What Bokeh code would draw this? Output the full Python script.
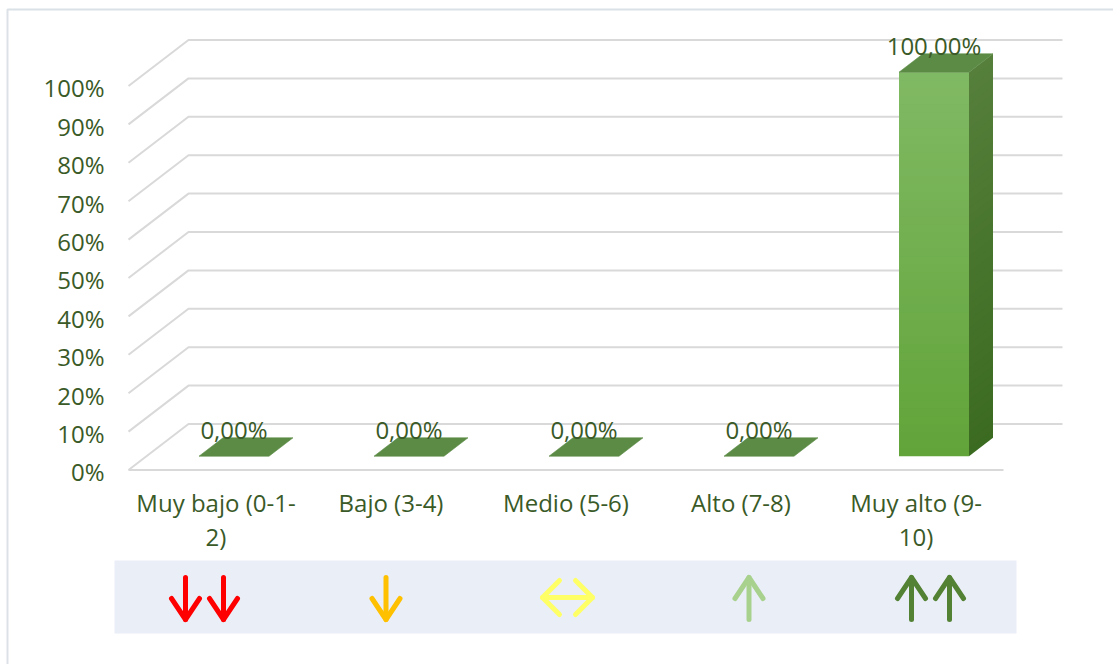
from bokeh.plotting import figure
from bokeh.models import Range1d
from bokeh.core.properties import value
from bokeh.embed import file_html
from bokeh.resources import INLINE

# ---- data -------------------------------------------------------------
categories = ["Muy bajo (0-1-2)", "Bajo (3-4)", "Medio (5-6)", "Alto (7-8)", "Muy alto (9-10)"]
category_lines = ["Muy bajo (0-1-\n2)", "Bajo (3-4)", "Medio (5-6)", "Alto (7-8)", "Muy alto (9-\n10)"]
percentages = [0.0, 0.0, 0.0, 0.0, 100.0]
y_ticks = [0, 10, 20, 30, 40, 50, 60, 70, 80, 90, 100]
y_tick_labels = ["0%", "10%", "20%", "30%", "40%", "50%", "60%", "70%", "80%", "90%", "100%"]
trend_kinds = ["down2", "down", "both", "up", "up2"]
trend_colors = ["#FF0000", "#FFC000", "#FFFF66", "#A9D18E", "#548235"]

# ---- layout / style ---------------------------------------------------
W, H = 1113, 664
PX = 3.84                 # pixels per percentage point
BASE_PX = 469.5           # pixel row of the front floor edge
FLOOR_L, FLOOR_R = 128, 1003
WALL_R = 1062
DEPTH_X, DEPTH_Y = 60, 46 / PX
BAR_W = 70
D0, D1 = 0.3, 0.7         # bar depth span inside the floor
TEXT = "#3A5A28"
FONT = value("Open Sans")
FS = "24px"
GRID = "#D9D9D9"


def yd(py):
    """pixel row -> data y"""
    return (BASE_PX - py) / PX


p = figure(width=W, height=H, output_backend="svg", toolbar_location=None,
           x_axis_type=None, y_axis_type=None, min_border=0,
           x_range=Range1d(0, W), y_range=Range1d(yd(H), yd(0)),
           background_fill_color="white", border_fill_color="white")
p.outline_line_color = None
p.grid.visible = False

# outer frame (left and top edges)
p.line([7, 7, W], [yd(H), yd(9), yd(9)], line_color="#DCE1E8", line_width=2)

# ---- walls and gridlines ---------------------------------------------
gx, gy = [], []
for t in y_ticks:
    gx.append([FLOOR_L, FLOOR_L + DEPTH_X, WALL_R])
    gy.append([t, t + DEPTH_Y, t + DEPTH_Y])
p.multi_line(gx, gy, line_color=GRID, line_width=2)
p.line([FLOOR_L, FLOOR_R], [0, 0], line_color=GRID, line_width=2)

p.text(x=[104] * len(y_ticks), y=[t - 0.5 for t in y_ticks], text=y_tick_labels,
       text_font=FONT, text_font_size=FS, text_color=TEXT,
       text_align="right", text_baseline="middle")

# ---- 3D columns --------------------------------------------------------
slot = (FLOOR_R - FLOOR_L) / len(categories)
centers = [FLOOR_L + slot * (i + 0.5) for i in range(len(categories))]


def mix(c1, c2, t):
    a = [int(c1[i:i + 2], 16) for i in (1, 3, 5)]
    b = [int(c2[i:i + 2], 16) for i in (1, 3, 5)]
    return "#%02x%02x%02x" % tuple(round(a[k] + (b[k] - a[k]) * t) for k in range(3))


N = 48
fl, fr, fb, ft, fc = [], [], [], [], []
sx, sy, sc = [], [], []
tx, ty = [], []
for cx, v in zip(centers, percentages):
    x0 = cx + D0 * DEPTH_X - BAR_W / 2
    x1 = x0 + BAR_W
    y0 = D0 * DEPTH_Y
    dx = (D1 - D0) * DEPTH_X
    dy = (D1 - D0) * DEPTH_Y
    if v > 0:
        for k in range(N):
            lo, hi = v * k / N, v * (k + 1) / N
            if k < N - 1:
                hi += 0.4  # overlap slices so no seams show
            t = k / (N - 1)
            fl.append(x0); fr.append(x1)
            fb.append(y0 + lo); ft.append(y0 + hi)
            fc.append(mix("#62A43A", "#80B963", t))
            sx.append([x1, x1 + dx, x1 + dx, x1])
            sy.append([y0 + lo, y0 + lo + dy, y0 + hi + dy, y0 + hi])
            sc.append(mix("#3B6B20", "#557F3B", t))
    tx.append([x0, x1, x1 + dx, x0 + dx])
    ty.append([y0 + v, y0 + v, y0 + v + dy, y0 + v + dy])

p.quad(left=fl, right=fr, bottom=fb, top=ft, fill_color=fc, line_color=None)
p.patches(sx, sy, fill_color=sc, line_color=None)
p.patches(tx, ty, fill_color="#5B8B45", line_color="#5B8B45", line_width=0.6)

value_text = [("%.2f" % v).replace(".", ",") + "%" for v in percentages]
p.text(x=[c + D0 * DEPTH_X for c in centers],
       y=[v + D1 * DEPTH_Y + 8 / PX for v in percentages], text=value_text,
       text_font=FONT, text_font_size=FS, text_color=TEXT,
       text_align="center", text_baseline="alphabetic")

p.text(x=centers, y=[yd(485)] * len(centers), text=category_lines,
       text_font=FONT, text_font_size=FS, text_color=TEXT,
       text_align="center", text_baseline="top", text_line_height=1.05)

# ---- trend strip ------------------------------------------------------
p.quad(left=114, right=1016, bottom=yd(633), top=yd(560), fill_color="#EAEEF7", line_color=None)

ax, ay, ac = [], [], []
ARROW_STEP, ARROW_MID = 181.5, 567
for i, (kind, col) in enumerate(zip(trend_kinds, trend_colors)):
    mx = ARROW_MID + ARROW_STEP * (i - 2)
    if kind == "both":
        my = 597
        ax.append([mx - 25, mx + 25]); ay.append([yd(my), yd(my)])
        ax.append([mx - 8, mx - 25, mx - 8]); ay.append([yd(my - 17), yd(my), yd(my + 17)])
        ax.append([mx + 8, mx + 25, mx + 8]); ay.append([yd(my - 17), yd(my), yd(my + 17)])
        ac += [col] * 3
        continue
    xs = [mx - 19, mx + 19] if kind.endswith("2") else [mx]
    for x in xs:
        top, bot = 577, 619
        ax.append([x, x]); ay.append([yd(top), yd(bot)])
        if kind.startswith("down"):
            ax.append([x - 14, x, x + 14]); ay.append([yd(bot - 21), yd(bot), yd(bot - 21)])
        else:
            ax.append([x - 14, x, x + 14]); ay.append([yd(top + 21), yd(top), yd(top + 21)])
        ac += [col] * 2
p.multi_line(ax, ay, line_color=ac, line_width=5, line_cap="round", line_join="round")

open("out.html", "w").write(file_html(p, INLINE))
